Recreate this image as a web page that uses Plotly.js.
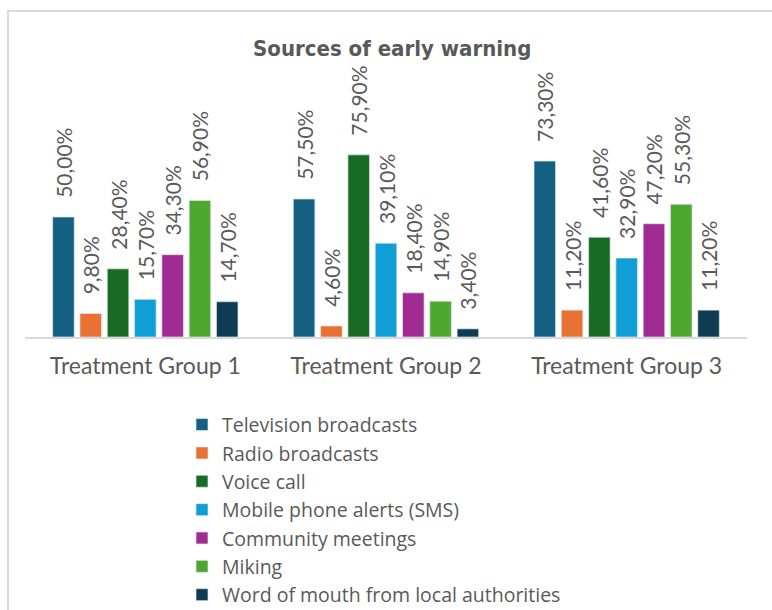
<!DOCTYPE html>
<html>
<head>
<meta charset="utf-8">
<script src="https://cdn.plot.ly/plotly-3.0.1.min.js"></script>
<style>
  html, body { margin: 0; padding: 0; background: #ffffff; overflow: hidden; }
  #chart { width: 772px; height: 610px; position: absolute; left: 0; top: 0; }
  #frame { position: absolute; left: 7px; top: 10px; width: 800px; height: 640px;
           border: 2px solid #d9d9d9; pointer-events: none; box-sizing: border-box; }
</style>
</head>
<body>
<div id="chart"></div>
<div id="frame"></div>
<script>
const categories = ["Treatment Group 1", "Treatment Group 2", "Treatment Group 3"];
const seriesNames = [
  "Television broadcasts",
  "Radio broadcasts",
  "Voice call",
  "Mobile phone alerts (SMS)",
  "Community meetings",
  "Miking",
  "Word of mouth from local authorities"
];
const television = [50.0, 57.5, 73.3];
const radio = [9.8, 4.6, 11.2];
const voiceCall = [28.4, 75.9, 41.6];
const sms = [15.7, 39.1, 32.9];
const community = [34.3, 18.4, 47.2];
const miking = [56.9, 14.9, 55.3];
const wordOfMouth = [14.7, 3.4, 11.2];
const seriesValues = [television, radio, voiceCall, sms, community, miking, wordOfMouth];
const colors = ["#156082", "#E97132", "#196B24", "#0F9ED5", "#A02B93", "#4EA72E", "#0F3B53"];

// leading no-break spaces give the label its gap above the bar
const fmt = v => "\u00a0\u00a0\u00a0" + v.toFixed(2).replace(".", ",") + "%";
const textColor = "#595959";
const font = "Lato, 'Open Sans', sans-serif";

const traces = seriesNames.map((name, i) => ({
  type: "bar",
  name: name,
  x: categories,
  y: seriesValues[i],
  marker: { color: colors[i], line: { color: "rgba(220,230,240,0.7)", width: 1 } },
  text: seriesValues[i].map(fmt),
  textposition: "outside",
  textangle: -90,
  constraintext: "none",
  cliponaxis: false,
  textfont: { family: font, size: 21, color: textColor },
  hoverinfo: "none"
}));

const layout = {
  width: 772,
  height: 610,
  margin: { l: 25, r: 25, t: 97, b: 273, autoexpand: false },
  paper_bgcolor: "#ffffff",
  plot_bgcolor: "#ffffff",
  title: {
    text: "<b>Sources of early warning</b>",
    font: { family: "'DejaVu Sans Condensed', sans-serif", size: 22, color: textColor },
    x: 0.508, xanchor: "center", y: 0.921, yanchor: "middle"
  },
  barmode: "group",
  bargap: 0.206,
  bargroupgap: 0.21,
  showlegend: true,
  legend: {
    orientation: "v",
    x: (182 - 25) / 722, xanchor: "left",
    y: -0.285, yanchor: "top",
    font: { family: "'Open Sans', Lato, sans-serif", size: 19.5, color: textColor },
    itemclick: false,
    bgcolor: "rgba(0,0,0,0)"
  },
  xaxis: {
    type: "category",
    showline: true, linecolor: "#d9d9d9", linewidth: 2,
    showgrid: false, zeroline: false,
    ticks: "outside", ticklen: 7, tickcolor: "rgba(0,0,0,0)",
    tickfont: { family: font, size: 23, color: textColor }
  },
  yaxis: {
    range: [0, 100],
    showline: false, showgrid: false, zeroline: false,
    showticklabels: false, ticks: ""
  }
};

Plotly.newPlot("chart", traces, layout, { displayModeBar: false, staticPlot: true });
</script>
</body>
</html>
